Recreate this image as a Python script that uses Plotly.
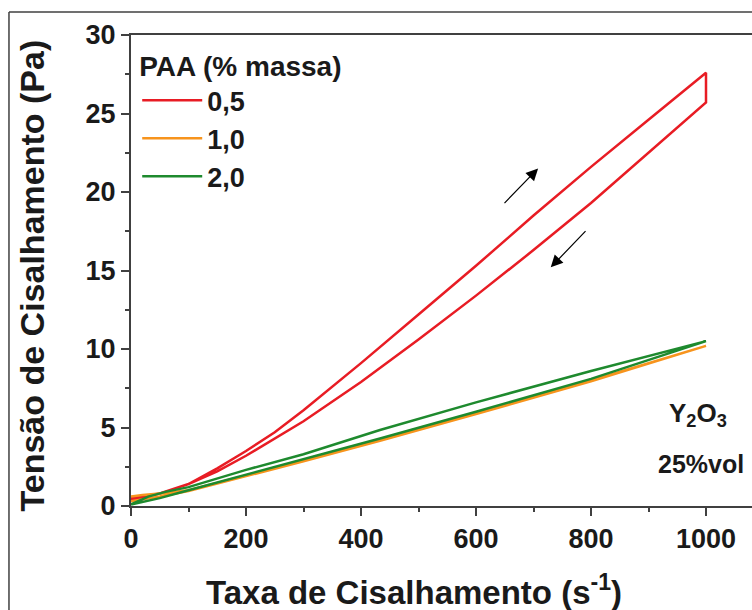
import plotly.graph_objects as go

# Shear rate (s^-1) and shear stress (Pa) readings
red_up_x = [0, 50, 100, 150, 200, 250, 300, 350, 400, 500, 600, 700, 800, 900, 1000]
red_up_y = [0.5, 0.8, 1.4, 2.4, 3.5, 4.7, 6.1, 7.6, 9.1, 12.2, 15.3, 18.5, 21.6, 24.6, 27.6]
red_dn_x = [1000, 1000, 900, 800, 700, 600, 500, 400, 300, 200, 150, 100, 50, 0]
red_dn_y = [27.6, 25.7, 22.5, 19.3, 16.3, 13.4, 10.6, 7.9, 5.4, 3.2, 2.2, 1.4, 0.8, 0.4]

orange_x = [0, 20, 50, 100, 200, 300, 433, 600, 800, 1000, 800, 600, 433, 300, 200, 100, 50, 0]
orange_y = [0.6, 0.7, 0.8, 1.0, 1.95, 2.9, 4.2, 5.9, 8.0, 10.2, 7.95, 5.85, 4.15, 2.85, 1.9, 0.95, 0.6, 0.3]

green_x = [0, 30, 60, 100, 200, 300, 433, 600, 800, 1000, 800, 600, 433, 300, 200, 100, 50, 0]
green_y = [0.1, 0.6, 0.9, 1.2, 2.3, 3.3, 4.84, 6.6, 8.6, 10.5, 8.1, 6.0, 4.3, 3.0, 2.0, 1.0, 0.5, 0.1]

x_ticks = [0, 200, 400, 600, 800, 1000]
y_ticks = [0, 5, 10, 15, 20, 25, 30]

RED = "#e81c24"
ORANGE = "#f7941d"
GREEN = "#1e8a2e"
FONT = "Arial, Liberation Sans, sans-serif"
INK = "#1a1a1a"

fig = go.Figure()
fig.add_trace(go.Scatter(x=red_up_x + red_dn_x, y=red_up_y + red_dn_y, mode="lines",
                         line=dict(color=RED, width=2.5), name="<b>0,5</b>"))
fig.add_trace(go.Scatter(x=orange_x, y=orange_y, mode="lines",
                         line=dict(color=ORANGE, width=2.5), name="<b>1,0</b>"))
fig.add_trace(go.Scatter(x=green_x, y=green_y, mode="lines",
                         line=dict(color=GREEN, width=2.5), name="<b>2,0</b>"))

axis_common = dict(
    showgrid=False, zeroline=False, showline=True, linecolor="#404040", linewidth=2,
    ticks="outside", ticklen=8, tickwidth=2, tickcolor="#404040",
    tickfont=dict(family=FONT, size=27, color=INK, weight="bold"),
)
fig.update_xaxes(range=[0, 1080], tickvals=x_ticks, mirror=True,
                 minor=dict(dtick=100, ticklen=4, tickwidth=2, tickcolor="#404040", ticks="outside"),
                 **axis_common)
fig.update_yaxes(range=[0, 30], tickvals=y_ticks,
                 minor=dict(dtick=2.5, ticklen=4, tickwidth=2, tickcolor="#404040", ticks="outside"),
                 **axis_common)

# axis titles
fig.add_annotation(x=0.456, y=-0.178, xref="paper", yref="paper", showarrow=False,
                   yanchor="middle", xanchor="center",
                   text="<b>Taxa de Cisalhamento (s<sup>-1</sup>)</b>",
                   font=dict(family=FONT, size=33, color=INK))
fig.add_annotation(x=-0.159, y=0.49, xref="paper", yref="paper", showarrow=False,
                   textangle=-90, xanchor="center", yanchor="middle",
                   text="<b>Tensão de Cisalhamento (Pa)</b>",
                   font=dict(family=FONT, size=34, color=INK))

fig.add_annotation(x=708, y=21.5, ax=647, ay=19.2, xref="x", yref="y", axref="x", ayref="y",
                   showarrow=True, arrowhead=2, arrowsize=2, arrowwidth=1.2, arrowcolor="black", text="")
fig.add_annotation(x=730, y=15.2, ax=793, ay=17.6, xref="x", yref="y", axref="x", ayref="y",
                   showarrow=True, arrowhead=2, arrowsize=2, arrowwidth=1.2, arrowcolor="black", text="")
fig.add_annotation(x=1040, y=5.85, xref="x", yref="y", showarrow=False, xanchor="right",
                   text="<b>Y<sub>2</sub>O<sub>3</sub></b>", font=dict(family=FONT, size=26, color=INK))
fig.add_annotation(x=1070, y=2.7, xref="x", yref="y", showarrow=False, xanchor="right",
                   text="<b>25%vol</b>", font=dict(family=FONT, size=25, color=INK))

# outer frame of the original figure
fig.add_shape(type="line", xref="paper", yref="paper", x0=-0.1965, x1=-0.1965, y0=-0.25, y1=1.0488,
              line=dict(color="#404040", width=1.5))
fig.add_shape(type="line", xref="paper", yref="paper", x0=-0.1965, x1=1.01, y0=1.0488, y1=1.0488,
              line=dict(color="#404040", width=1.5))

fig.update_layout(
    width=752, height=610,
    margin=dict(l=131, r=0, t=35, b=104),
    paper_bgcolor="white", plot_bgcolor="white",
    showlegend=True,
    legend=dict(x=0.01, y=0.99, xanchor="left", yanchor="top",
                bgcolor="rgba(0,0,0,0)", itemwidth=60, tracegroupgap=0,
                title=dict(text="<b>PAA (% massa)</b>", font=dict(family=FONT, size=28, color=INK)),
                font=dict(family=FONT, size=27, color=INK)),
)
fig.write_html("out.html")
